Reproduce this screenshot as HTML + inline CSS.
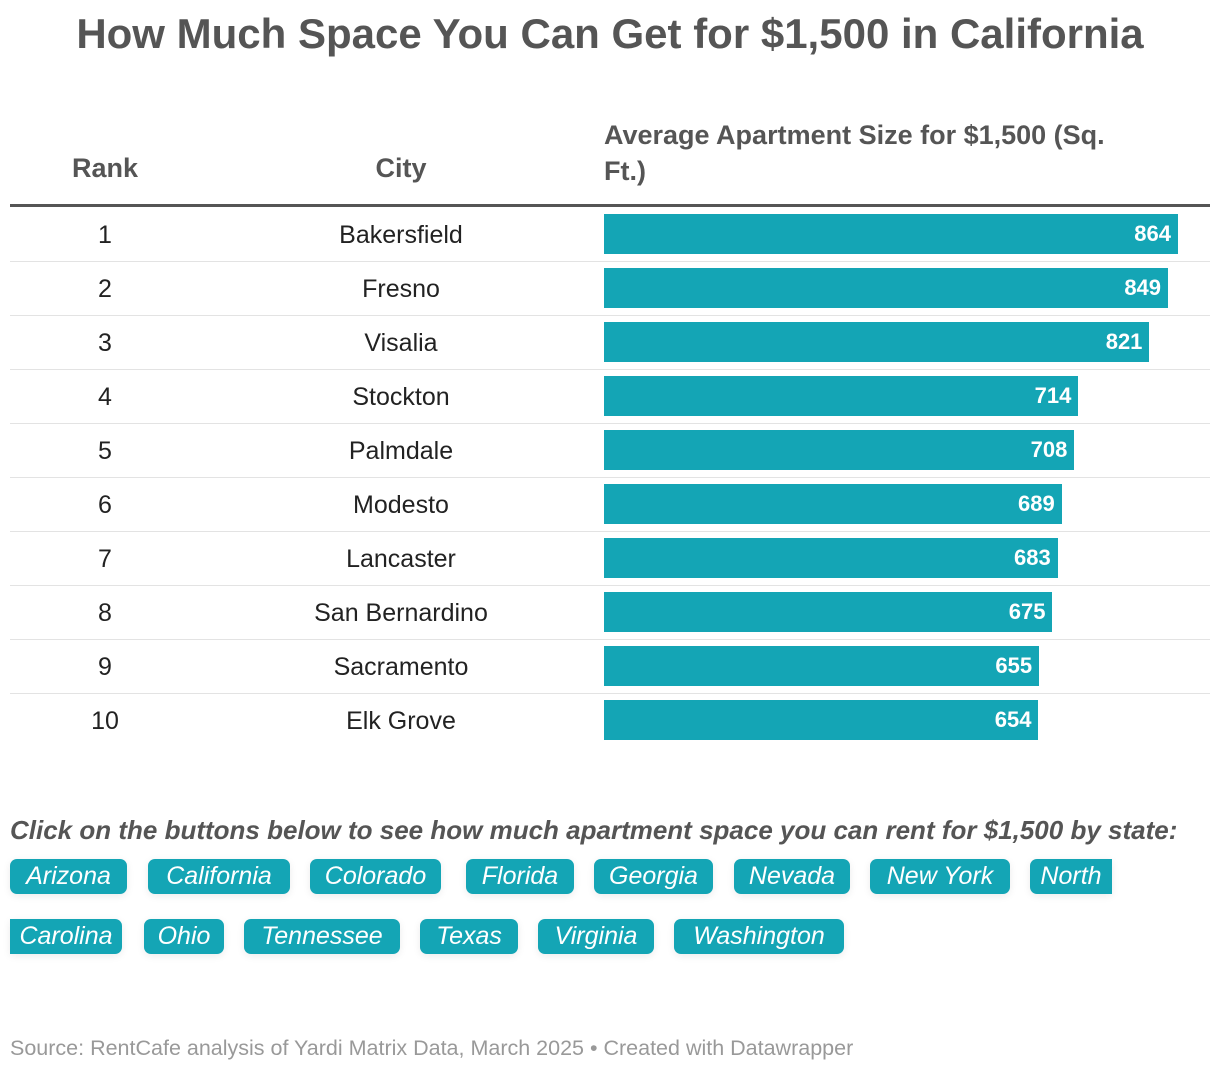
<!DOCTYPE html>
<html><head><meta charset="utf-8"><style>
body{margin:0;width:1220px;height:1072px;background:#fff;font-family:"Liberation Sans",sans-serif;position:relative;overflow:hidden}
.abs{position:absolute}
.title{left:0;width:1220px;top:10px;text-align:center;font-size:42px;font-weight:bold;color:#555}
.hdr{font-size:27px;font-weight:bold;color:#555}
.cell{font-size:25px;color:#222;text-align:center}
.sep{left:10px;width:1200px;height:1px;background:#e3e3e3}
.bar{background:#14a5b5;height:40px;left:604px}
.val{color:#fff;font-weight:bold;font-size:22px;text-align:right}
.btn{background:#14a5b5;color:#fff;font-style:italic;font-size:25px;height:35px;line-height:35px;border-radius:7px;text-align:center;box-shadow:0 2px 8px rgba(0,0,0,0.08);white-space:nowrap;overflow:hidden}
</style></head><body>
<div class="abs title">How Much Space You Can Get for $1,500 in California</div>
<div class="abs hdr" style="left:40px;width:130px;top:153px;text-align:center">Rank</div>
<div class="abs hdr" style="left:300px;width:202px;top:153px;text-align:center">City</div>
<div class="abs hdr" style="left:604px;width:535px;top:117px;line-height:36px">Average Apartment Size for $1,500 (Sq. Ft.)</div>
<div class="abs" style="left:10px;width:1200px;top:204px;height:3px;background:#555"></div>
<div id="rows"></div>
<div class="abs" style="left:10px;top:815px;font-size:26px;font-weight:bold;font-style:italic;color:#555">Click on the buttons below to see how much apartment space you can rent for $1,500 by state:</div>
<div id="btns"></div>
<div class="abs" style="left:10px;top:1036px;font-size:21.5px;color:#999">Source: RentCafe analysis of Yardi Matrix Data, March 2025 • Created with Datawrapper</div>
<script>
const ranks=[1,2,3,4,5,6,7,8,9,10];
const cities=["Bakersfield","Fresno","Visalia","Stockton","Palmdale","Modesto","Lancaster","San Bernardino","Sacramento","Elk Grove"];
const sizes=[864,849,821,714,708,689,683,675,655,654];
const states=["Arizona","California","Colorado","Florida","Georgia","Nevada","New York","North","Carolina","Ohio","Tennessee","Texas","Virginia","Washington"];
const btnBox=[[10,117,859],[148,142,859],[310,131,859],[466,108,859],[594,119,859],[734,116,859],[870,140,859],[1030,82,859],[10,112,919],[144,80,919],[244,156,919],[420,98,919],[538,116,919],[674,170,919]];
const x=v=>v*574/864;
const rows=document.getElementById('rows');
ranks.forEach((r,i)=>{
  const top=207+i*54;
  const a=document.createElement('div');a.className='abs cell';a.style.cssText=`left:40px;width:130px;top:${top+14}px`;a.textContent=r;
  
  
  rows.appendChild(a);
  const c=document.createElement('div');c.className='abs cell';c.style.cssText=`left:250px;width:302px;top:${top+14}px`;c.textContent=cities[i];
  
  
  rows.appendChild(c);
  const b=document.createElement('div');b.className='abs bar';b.style.top=(top+7)+'px';b.style.width=x(sizes[i])+'px';
  
  
  rows.appendChild(b);
  const v=document.createElement('div');v.className='abs val';v.style.cssText=`left:604px;width:${x(sizes[i])-7}px;top:${top+14}px`;v.textContent=sizes[i];
  
  
  rows.appendChild(v);
  if(i<9){const s=document.createElement('div');s.className='abs sep';s.style.top=(top+54)+'px';
  
  
  rows.appendChild(s);}
});
const bt=document.getElementById('btns');
states.forEach((s,i)=>{
  const [l,w,t]=btnBox[i];
  const d=document.createElement('div');d.className='abs btn';d.style.cssText=`left:${l}px;width:${w}px;top:${t}px`;d.textContent=s;
  if(i==7)d.style.borderRadius='7px 0 0 7px';
  if(i==8)d.style.borderRadius='0 7px 7px 0';
  
  
  bt.appendChild(d);
});
</script>
</body></html>
